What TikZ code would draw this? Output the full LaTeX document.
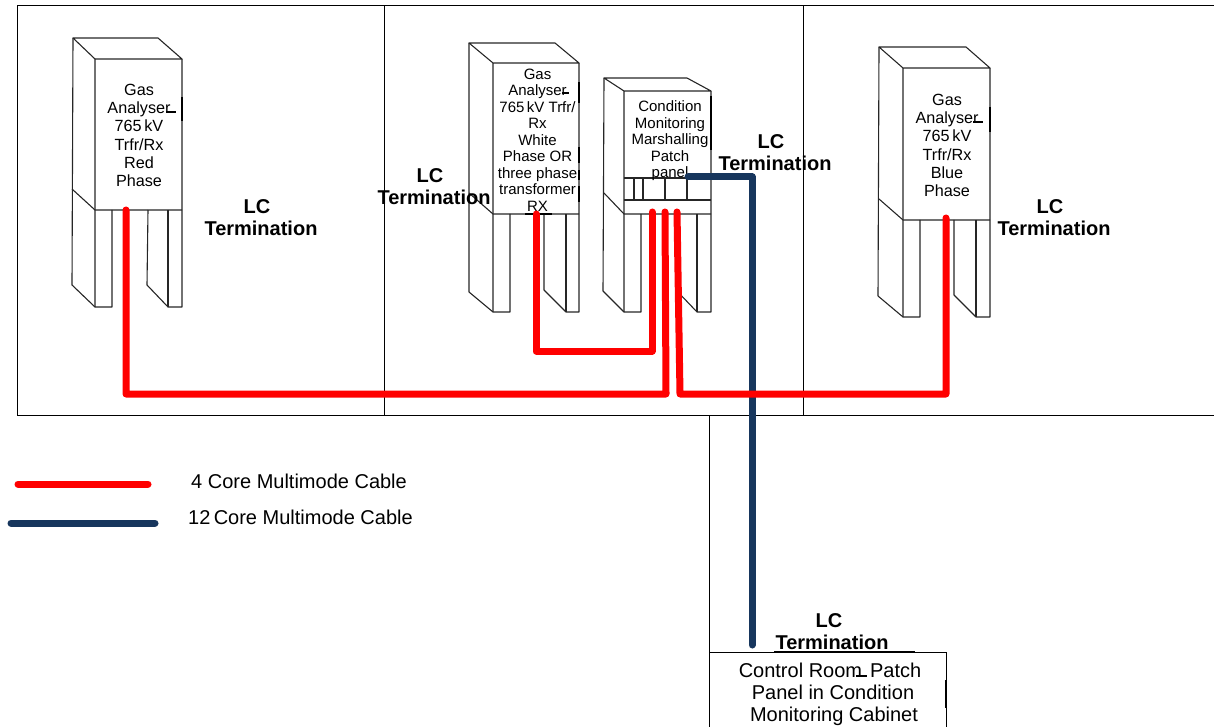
\documentclass[tikz,border=0pt]{standalone}
\usepackage{fontspec}
\setmainfont{Liberation Sans}
\definecolor{wirered}{RGB}{255,0,0}
\definecolor{wirenavy}{RGB}{23,54,93}
\tikzset{
  x=1pt,y=-1pt,
  frameline/.style={draw=black,line width=1pt},
  cabline/.style={draw=black!85,line width=1.1pt,line join=round},
  heavy/.style={draw=black,line width=2.2pt},
  redwire/.style={draw=wirered,line width=7pt,line cap=round,line join=round},
  navywire/.style={draw=wirenavy,line width=7pt,line cap=round,line join=round},
  bigtext/.style={inner sep=0pt,align=center,font=\fontsize{20}{22}\selectfont},
  lctext/.style={inner sep=0pt,align=center,font=\fontsize{20}{22}\selectfont\bfseries},
  midtext/.style={inner sep=0pt,align=center,font=\fontsize{16.2}{18.2}\selectfont},
  smalltext/.style={inner sep=0pt,align=center,font=\fontsize{15}{16.5}\selectfont},
}
\begin{document}
\begin{tikzpicture}
\useasboundingbox (0,0) rectangle (1214,727);
% frames
\draw[frameline] (1214,6) -- (17,6) -- (17,415) -- (1214,415);
\draw[frameline] (384,6) -- (384,415);
\draw[frameline] (803,6) -- (803,415);
\draw[frameline] (709,415) -- (709,727);
\draw[frameline] (709,727) -- (709,652) -- (946,652) -- (946,727);
% cabinet 1
\draw[cabline] (95,59) -- (73,38) -- (158,38) -- (182,59) -- (95,59) -- (95,307);
\draw[cabline] (73,38) -- (72,285) -- (95,307) -- (112,307) -- (112,210);
\draw[cabline] (72,189) -- (95,210) -- (182,210);
\draw[cabline] (182,59) -- (182,307) -- (168,307) -- (147,285) -- (148,210);
\draw[cabline] (168,210) -- (168,307);
% cabinet 2
\draw[cabline] (493,63) -- (469,43) -- (555,43) -- (579,63) -- (493,63) -- (493,312);
\draw[cabline] (469,43) -- (469,292) -- (493,312) -- (510,312) -- (510,214);
\draw[cabline] (469,193) -- (493,214) -- (579,214);
\draw[cabline] (579,63) -- (579,312) -- (566,312) -- (544,290) -- (544,214);
\draw[cabline] (566,214) -- (566,312);
% cabinet 3
\draw[cabline] (624,91) -- (604,78) -- (687,78) -- (711,91) -- (624,91) -- (624,312);
\draw[cabline] (604,78) -- (603,291) -- (624,312) -- (641,312) -- (641,214);
\draw[cabline] (604,193) -- (624,214) -- (711,214);
\draw[cabline] (711,91) -- (711,312) -- (697,312) -- (676,290) -- (676,214);
\draw[cabline] (697,214) -- (697,312);
\draw[cabline] (624,178) -- (711,178);
\draw[cabline] (624,200) -- (711,200);
\draw[cabline] (634,178) -- (634,200);
\draw[cabline] (643,178) -- (643,200);
\draw[cabline] (665,178) -- (665,200);
\draw[cabline] (687,178) -- (687,200);
% cabinet 4
\draw[cabline] (903,68) -- (879,47) -- (966,47) -- (990,68) -- (903,68) -- (903,317);
\draw[cabline] (879,47) -- (878,296) -- (903,317) -- (920,317) -- (920,220);
\draw[cabline] (879,199) -- (903,220) -- (990,220);
\draw[cabline] (990,68) -- (990,317) -- (976,317) -- (954,295) -- (954,220);
\draw[cabline] (976,220) -- (976,317);
% short heavy strokes
\draw[heavy] (166,112) -- (176,112);
\draw[heavy] (182,97) -- (182,121);
\draw[heavy] (562,93) -- (569,93);
\draw[heavy] (579,82) -- (579,103);
\draw[heavy] (579,147) -- (579,163);
\draw[heavy] (579,170) -- (579,180);
\draw[heavy] (579,186) -- (579,202);
\draw[heavy] (525,214) -- (552,214);
\draw[heavy] (711,96) -- (711,150);
\draw[heavy] (973,122) -- (983,122);
\draw[heavy] (990,107) -- (990,132);
\draw[heavy] (774,652) -- (915,652);
\draw[heavy] (856,676) -- (867,676);
\draw[heavy] (946,680) -- (946,708);
% panel texts
\node[midtext] (panelred) at (139,135.5) {Gas\\Analyser\hspace*{12pt}\\765\,kV\\Trfr/Rx\\Red\\Phase};
\node[smalltext] (panelwhite) at (537.5,140) {Gas\\Analyser\hspace*{9pt}\\765\,kV Trfr/\\Rx\\White\\Phase OR\\three phase\\transformer\\RX};
\node[smalltext] (panelmarsh) at (670,141) {Condition\\Monitoring\\Marshalling\\Patch\\panel};
\node[midtext] (panelblue) at (947,145.5) {Gas\\Analyser\hspace*{11pt}\\765\,kV\\Trfr/Rx\\Blue\\Phase};
\node[bigtext] (panelroom) at (830,694) {Control Room\hspace{8pt}Patch\\\hspace*{6pt}Panel in Condition\\\hspace*{8pt}Monitoring Cabinet};
% LC labels
\node[lctext] (lcred) at (261,218) {LC\hspace*{8pt}\\Termination};
\node[lctext] (lcwhite) at (434,187) {LC\hspace*{8pt}\\Termination};
\node[lctext] (lcmarsh) at (775,153) {LC\hspace*{8pt}\\Termination};
\node[lctext] (lcblue) at (1054,218) {LC\hspace*{8pt}\\Termination};
\node[lctext] (lcroom) at (832,631.5) {LC\hspace*{6pt}\\Termination};
% legend text
\node[bigtext,anchor=west] (leg4) at (191,481) {4 Core Multimode Cable};
\node[bigtext,anchor=west] (leg12) at (188,517) {12\,Core Multimode Cable};
% connector ends
\coordinate (portred) at (126,210);
\coordinate (portwhite) at (536,214);
\coordinate (portblue) at (946,218);
\coordinate (marshA) at (652,212);
\coordinate (marshB) at (665,212);
\coordinate (marshC) at (677,212);
\coordinate (marshN) at (688,177);
\coordinate (roomN) at (752,645);
\coordinate (legRa) at (18,484);
\coordinate (legRb) at (148,484);
\coordinate (legNa) at (11,523);
\coordinate (legNb) at (155,523);
% wires
\draw[navywire] (marshN) -| (roomN);
\draw[redwire] (portwhite) |- (644,351) -- (652,351) -- (marshA);
\draw[redwire] (portred) |- (666,394) -- (marshB);
\draw[redwire] (marshC) -- (680,394) -| (portblue);
\draw[redwire] (legRa) -- (legRb);
\draw[navywire] (legNa) -- (legNb);
\end{tikzpicture}
\end{document}
